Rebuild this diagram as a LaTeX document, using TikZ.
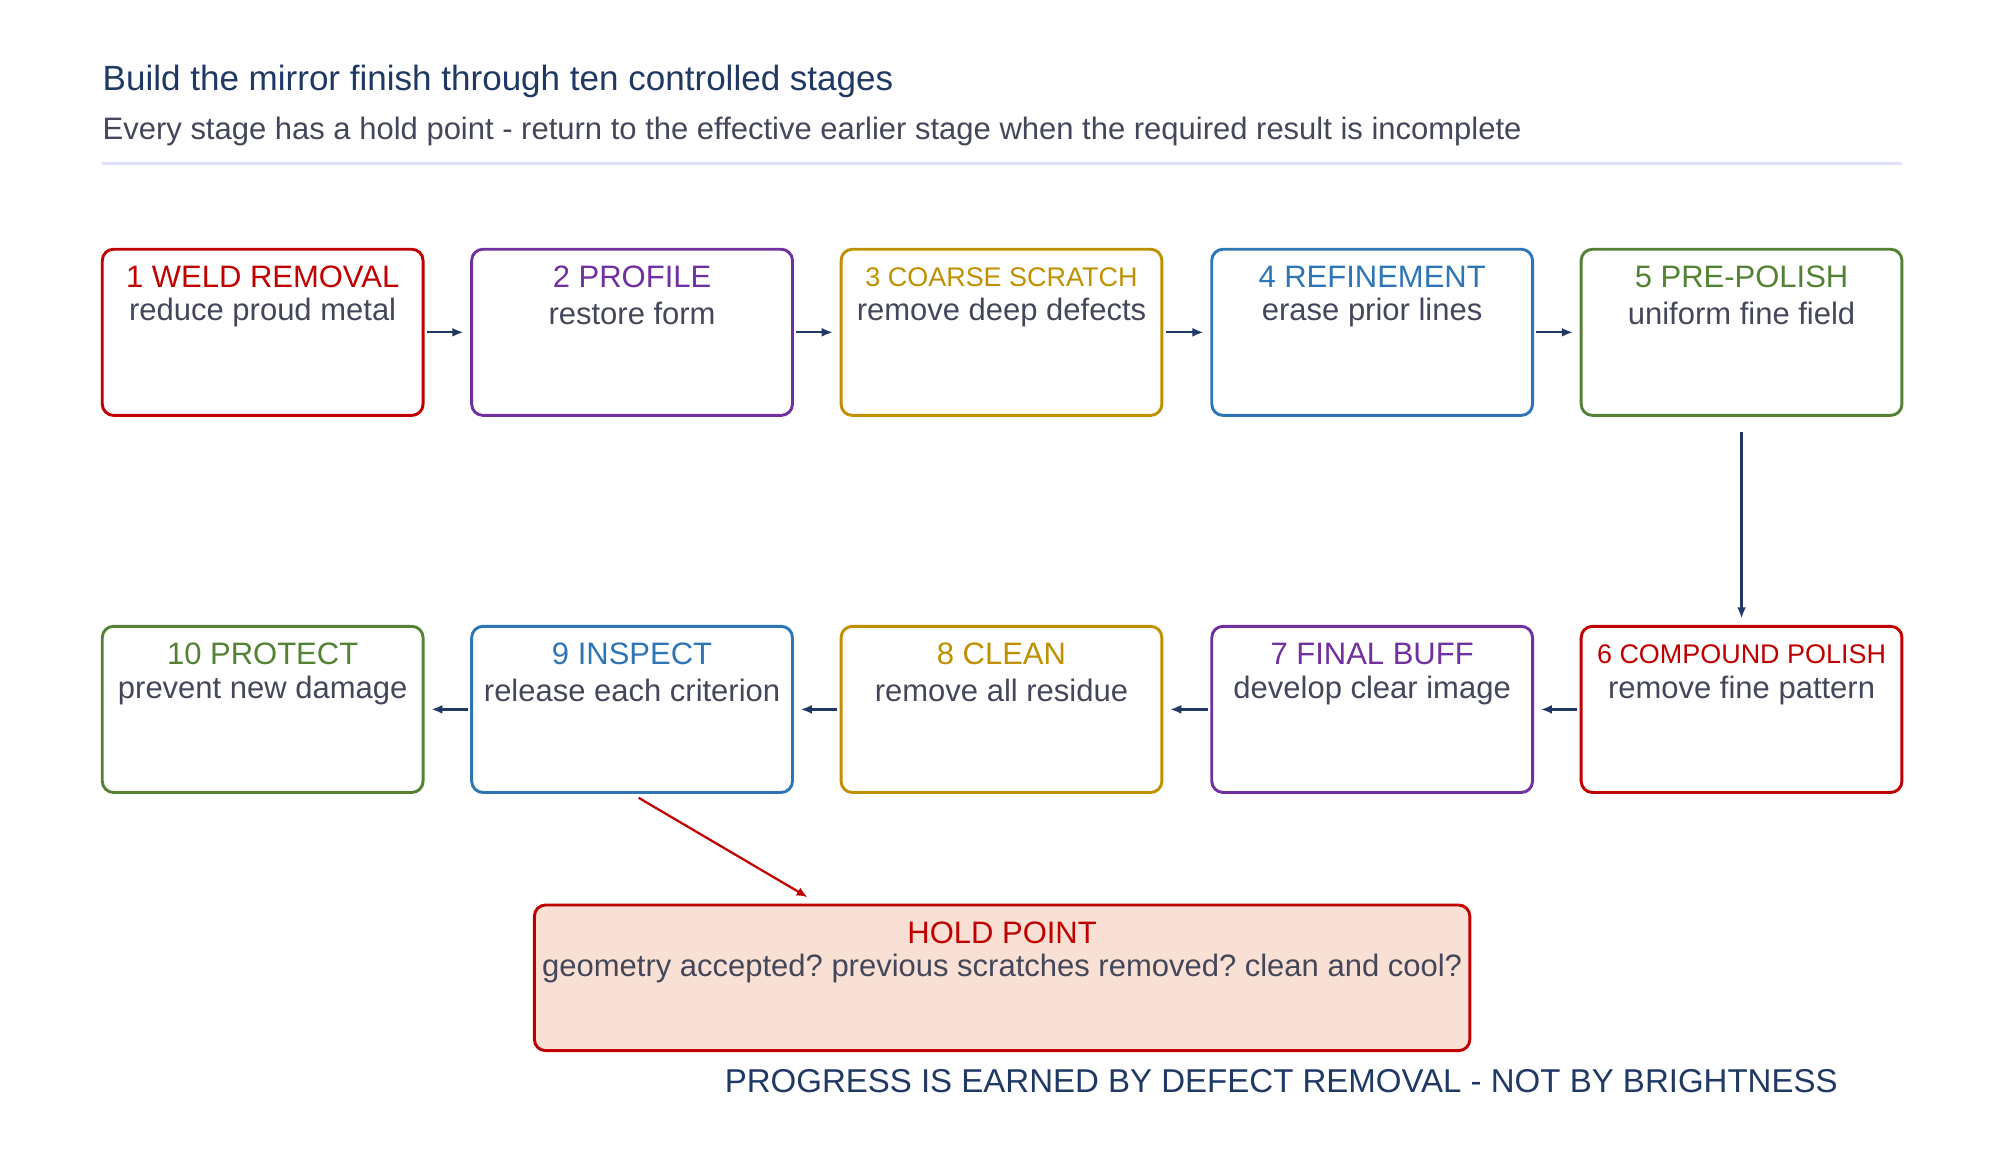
\documentclass[tikz,border=0pt]{standalone}
\usepackage{fontspec}
\setmainfont{Liberation Sans}
\usetikzlibrary{positioning,arrows.meta}
\definecolor{cred}{HTML}{C00000}
\definecolor{cpurple}{HTML}{7030A0}
\definecolor{cgold}{HTML}{BF9000}
\definecolor{cblue}{HTML}{2E75B6}
\definecolor{cgreen}{HTML}{548235}
\definecolor{navy}{HTML}{1F3864}
\definecolor{bodytext}{HTML}{44475A}
\definecolor{holdfill}{HTML}{F9E0D4}
\frenchspacing
\tikzset{
  stage/.style={draw=#1, line width=1.3pt, rounded corners=5pt, minimum width=5.02cm, minimum height=2.6cm, inner sep=0pt},
  head/.style={text=#1, font=\fontsize{13.8}{15}\selectfont, anchor=center},
  body/.style={text=bodytext, font=\fontsize{13.8}{15}\selectfont, anchor=center},
  flow/.style={-{Latex[length=5pt,width=4pt]}, navy, line width=1pt}
}
\begin{document}
\begin{tikzpicture}[x=0.02cm,y=-0.02cm]
\useasboundingbox (0,0) rectangle (1560,908);

% heading
\node[anchor=base west, text=navy, font=\fontsize{15.6}{17}\selectfont, inner sep=0pt] (title) at (80,71) {Build the mirror finish through ten controlled stages};
\node[anchor=base west, text=bodytext, font=\fontsize{13.8}{15}\selectfont, inner sep=0pt] (sub) at (80,109) {Every stage has a hold point - return to the effective earlier stage when the required result is incomplete};
\draw[blue!12!white, line width=1pt] (80,128) -- (1488,128);

% the stages
\foreach \n/\x/\y/\c/\h/\b/\f in {
  s1/205.5/260/cred/1 WELD REMOVAL/reduce proud metal/13.8,
  s2/494.5/260/cpurple/2 PROFILE/restore form/13.8,
  s3/783.5/260/cgold/3 COARSE SCRATCH/remove deep defects/12,
  s4/1073.5/260/cblue/4 REFINEMENT/erase prior lines/13.8,
  s5/1362.5/260/cgreen/5 PRE-POLISH/uniform fine field/13.8,
  s6/1362.5/555/cred/6 COMPOUND POLISH/remove fine pattern/12,
  s7/1073.5/555/cpurple/7 FINAL BUFF/develop clear image/13.8,
  s8/783.5/555/cgold/8 CLEAN/remove all residue/13.8,
  s9/494.5/555/cblue/9 INSPECT/release each criterion/13.8,
  s10/205.5/555/cgreen/10 PROTECT/prevent new damage/13.8}{
  \node[stage=\c] (\n) at (\x,\y) {};
  \node[head=\c, font=\fontsize{\f}{15}\selectfont] (\n h) at ([yshift=-0.46cm]\n.north) {\h};
  \node[body] (\n b) at ([yshift=-1.02cm]\n.north) {\b};
}

% connectors
\foreach \a/\b in {s1/s2,s2/s3,s3/s4,s4/s5,s6/s7,s7/s8,s8/s9,s9/s10}
  \draw[flow, shorten <=1pt, shorten >=3pt] (\a) -- (\b);
\draw[flow, shorten <=0.24cm, shorten >=0.1cm] (s5) -- (s6);

% hold point
\node[draw=cred, fill=holdfill, line width=1.3pt, rounded corners=5pt, minimum width=14.64cm, minimum height=2.28cm] (hold) at (784,765) {};
\node[text=cred, font=\fontsize{13.8}{15}\selectfont] (holdh) at ([yshift=-0.46cm]hold.north) {HOLD POINT};
\node[body] (holdb) at ([yshift=-1.02cm]hold.north) {geometry accepted? previous scratches removed? clean and cool?};
\coordinate (holdin) at (632,702);
\draw[-{Latex[length=5pt,width=4pt]}, cred, line width=1pt, shorten <=0.12cm] (s9.south) -- (holdin);

\node[anchor=base east, text=navy, font=\fontsize{14.7}{16}\selectfont, inner sep=0pt] (motto) at (1438,855) {PROGRESS IS EARNED BY DEFECT REMOVAL - NOT BY BRIGHTNESS};
\end{tikzpicture}
\end{document}
